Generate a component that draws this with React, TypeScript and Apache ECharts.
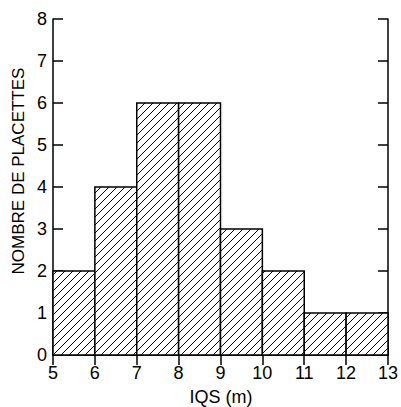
import React, { useEffect, useRef } from "react";
import * as echarts from "echarts";

const binStarts = [5, 6, 7, 8, 9, 10, 11, 12];
const binEnds = [6, 7, 8, 9, 10, 11, 12, 13];
const counts = [2, 4, 6, 6, 3, 2, 1, 1];
const xTicks = [5, 6, 7, 8, 9, 10, 11, 12, 13];
const yTicks = [0, 1, 2, 3, 4, 5, 6, 7, 8];
const xTitle = "IQS (m)";
const yTitle = "NOMBRE DE PLACETTES";

const FONT = "Liberation Sans, Arial, sans-serif";

export default function App() {
  const ref = useRef<HTMLDivElement>(null);
  useEffect(() => {
    if (!ref.current) return;
    const chart = echarts.init(ref.current, null, { renderer: "svg" });
    const data = binStarts.map((s, i) => [s, binEnds[i], counts[i]]);
    const axisCommon = {
      type: "value" as const,
      interval: 1,
      axisLine: { show: true, lineStyle: { color: "#000", width: 1.5 } },
      axisTick: { show: true, inside: true, length: 10, lineStyle: { color: "#000", width: 1.5 } },
      splitLine: { show: false },
    };
    chart.setOption({
      animation: false,
      grid: { left: 53, right: 12, top: 19, bottom: 52 },
      graphic: [
        {
          type: "text",
          x: 18,
          y: 171,
          rotation: Math.PI / 2,
          style: {
            text: yTitle,
            fontFamily: FONT,
            fontSize: 17,
            fill: "#000",
            align: "center",
            verticalAlign: "middle",
          },
        },
        {
          type: "text",
          x: 221,
          y: 397,
          style: {
            text: xTitle,
            fontFamily: FONT,
            fontSize: 18,
            fill: "#000",
            align: "center",
            verticalAlign: "middle",
          },
        },
      ],
      xAxis: [
        {
          ...axisCommon,
          min: xTicks[0],
          max: xTicks[xTicks.length - 1],
          position: "bottom",
          axisLabel: { fontFamily: FONT, fontSize: 18, color: "#000", margin: 9 },
        },
        {
          ...axisCommon,
          min: xTicks[0],
          max: xTicks[xTicks.length - 1],
          position: "top",
          axisLabel: { show: false },
        },
      ],
      yAxis: [
        {
          ...axisCommon,
          min: yTicks[0],
          max: yTicks[yTicks.length - 1],
          position: "left",
          axisLabel: { fontFamily: FONT, fontSize: 18, color: "#000", margin: 6 },
        },
        {
          ...axisCommon,
          min: yTicks[0],
          max: yTicks[yTicks.length - 1],
          position: "right",
          axisLabel: { show: false },
        },
      ],
      series: [
        {
          type: "custom",
          data,
          renderItem: (params: any, api: any) => {
            const s = api.value(0);
            const e = api.value(1);
            const v = api.value(2);
            const p0 = api.coord([s, 0]);
            const p1 = api.coord([e, v]);
            const x0 = Math.min(p0[0], p1[0]);
            const x1 = Math.max(p0[0], p1[0]);
            const y0 = Math.min(p0[1], p1[1]);
            const y1 = Math.max(p0[1], p1[1]);
            const children: any[] = [
              {
                type: "rect",
                shape: { x: x0, y: y0, width: x1 - x0, height: y1 - y0 },
                style: { fill: "#fff", stroke: "none" },
              },
            ];
            const step = 8;
            const cStart = Math.ceil((x0 + y0) / step) * step;
            for (let c = cStart; c <= x1 + y1; c += step) {
              const xa = Math.max(x0, c - y1);
              const xb = Math.min(x1, c - y0);
              if (xb - xa < 0.5) continue;
              children.push({
                type: "line",
                shape: { x1: xa, y1: c - xa, x2: xb, y2: c - xb },
                style: { stroke: "#000", lineWidth: 1 },
              });
            }
            children.push({
              type: "rect",
              shape: { x: x0, y: y0, width: x1 - x0, height: y1 - y0 },
              style: { fill: "none", stroke: "#000", lineWidth: 1.5 },
            });
            return { type: "group", children };
          },
        },
      ],
    });
    return () => chart.dispose();
  }, []);
  return (
    <div
      ref={ref}
      style={{ position: "absolute", left: 0, top: 0, width: 401, height: 407 }}
    />
  );
}
